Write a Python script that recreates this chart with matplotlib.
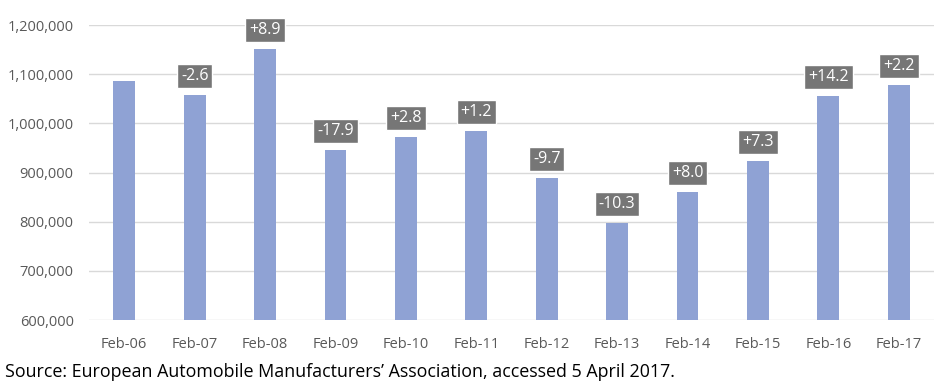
import matplotlib.pyplot as plt
from matplotlib.ticker import FuncFormatter

months = ['Feb-06', 'Feb-07', 'Feb-08', 'Feb-09', 'Feb-10', 'Feb-11',
          'Feb-12', 'Feb-13', 'Feb-14', 'Feb-15', 'Feb-16', 'Feb-17']
registrations = [1085500, 1057500, 1151000, 946500, 973000, 984000,
                 888500, 797000, 861000, 924000, 1055500, 1078500]
changes = ['', '-2.6', '+8.9', '-17.9', '+2.8', '+1.2',
           '-9.7', '-10.3', '+8.0', '+7.3', '+14.2', '+2.2']

plt.rcParams['font.family'] = ['Open Sans', 'DejaVu Sans']

fig = plt.figure(figsize=(9.38, 3.83), dpi=100)
ax = fig.add_axes([89/938, 63/383, 845/938, 295/383])

x = range(len(months))
ax.bar(x, registrations, width=0.31, color='#8fa2d4', zorder=3)

for i, (v, c) in enumerate(zip(registrations, changes)):
    if not c:
        continue
    ax.annotate(c, (i, v), xytext=(0, 11), textcoords='offset pixels',
                ha='center', va='bottom', color='white', fontsize=11.5,
                bbox=dict(boxstyle='square,pad=0.25', fc='#767676', ec='white', lw=1),
                zorder=5)

ax.set_ylim(600000, 1200000)
ax.set_xlim(-0.5, len(months) - 0.5)
ax.set_yticks(range(600000, 1200001, 100000))
ax.yaxis.set_major_formatter(FuncFormatter(lambda v, p: f'{int(v):,}'))
ax.set_xticks(list(x))
ax.set_xticklabels(months)
ax.grid(axis='y', color='#d9d9d9', lw=1, zorder=0)
for s in ax.spines.values():
    s.set_visible(False)
ax.tick_params(length=0, colors='#595959', labelsize=10.5)
ax.tick_params(axis='x', pad=12)
ax.tick_params(axis='y', pad=11)

fig.text(5/938, 1 - 372/383, 'Source: European Automobile Manufacturers\u2019 Association, accessed 5 April 2017.',
         fontsize=12.9, color='black', va='center', ha='left')

fig.savefig('out.png', dpi=100)
